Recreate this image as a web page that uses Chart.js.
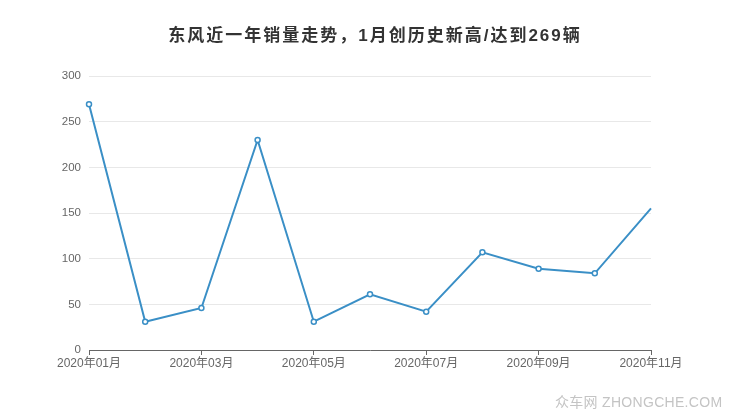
<!DOCTYPE html>
<html><head><meta charset="utf-8">
<script src="https://cdn.jsdelivr.net/npm/chart.js@4/dist/chart.umd.min.js"></script>
<style>
html,body{margin:0;padding:0;background:#fff;}
#wrap{position:relative;width:740px;height:417px;}
#c{position:absolute;left:0;top:0;}
#title{position:absolute;left:0;top:21px;width:750px;text-align:center;font:bold 17px 'Liberation Sans','Noto Sans CJK SC',sans-serif;color:#333;letter-spacing:2px;white-space:nowrap;}
#wm{position:absolute;left:555px;top:391px;font:14px 'Liberation Sans','Noto Sans CJK SC',sans-serif;color:#c4c4c4;letter-spacing:0.3px;white-space:nowrap;}
</style></head>
<body>
<div id="wrap"><canvas id="c" width="740" height="417"></canvas><div id="title"></div><div id="wm">众车网 ZHONGCHE.COM</div></div>
<script>
const titleText = '东风近一年销量走势，1月创历史新高/达到269辆';
const categories = ['2020年01月','2020年02月','2020年03月','2020年04月','2020年05月','2020年06月','2020年07月','2020年08月','2020年09月','2020年10月','2020年11月'];
const sales = [269, 31, 46, 230, 31, 61, 42, 107, 89, 84, 155];
const yTicks = [0, 50, 100, 150, 200, 250, 300];

document.getElementById('title').textContent = titleText;

const FONT = "'Liberation Sans','Noto Sans CJK SC',sans-serif";
const blue = '#3a8fc6';

new Chart(document.getElementById('c'), {
  type: 'line',
  data: {
    labels: categories,
    datasets: [{
      data: sales,
      borderColor: blue,
      borderWidth: 2,
      backgroundColor: '#fff',
      pointBackgroundColor: '#fff',
      pointBorderColor: blue,
      pointBorderWidth: 1.5,
      pointRadius: ctx => ctx.dataIndex === sales.length - 1 ? 0 : 2.5,
      tension: 0,
      fill: false,
      clip: false
    }]
  },
  options: {
    responsive: false,
    animation: false,
    layout: { padding: { left: 0, right: 89, top: 76, bottom: 0 } },
    plugins: {
      legend: { display: false },
      tooltip: { enabled: false },
      title: { display: false }
    },
    scales: {
      x: {
        offset: false,
        grid: {
          drawOnChartArea: false,
          drawTicks: true,
          tickLength: 5,
          tickColor: ctx => (ctx.index % 2 === 0 ? '#666' : 'rgba(0,0,0,0)'),
          color: ctx => (ctx.index % 2 === 0 ? '#666' : 'rgba(0,0,0,0)')
        },
        border: { display: true, color: '#666', width: 1 },
        ticks: {
          autoSkip: false,
          maxRotation: 0,
          color: '#666',
          font: { family: FONT, size: 12 },
          padding: 1,
          callback: function(v, i) { return i % 2 === 0 ? categories[i] : ''; }
        },
        afterFit: s => { s.height = 67; }
      },
      y: {
        min: 0, max: 300,
        afterBuildTicks: s => { s.ticks = yTicks.map(v => ({ value: v })); },
        grid: { color: '#e8e8e8', drawTicks: false, lineWidth: 1 },
        border: { display: false },
        ticks: {
          color: '#666',
          font: { family: FONT, size: 11.5 },
          padding: 8
        },
        afterFit: s => { s.width = 89; }
      }
    }
  }
});
</script>
</body></html>
